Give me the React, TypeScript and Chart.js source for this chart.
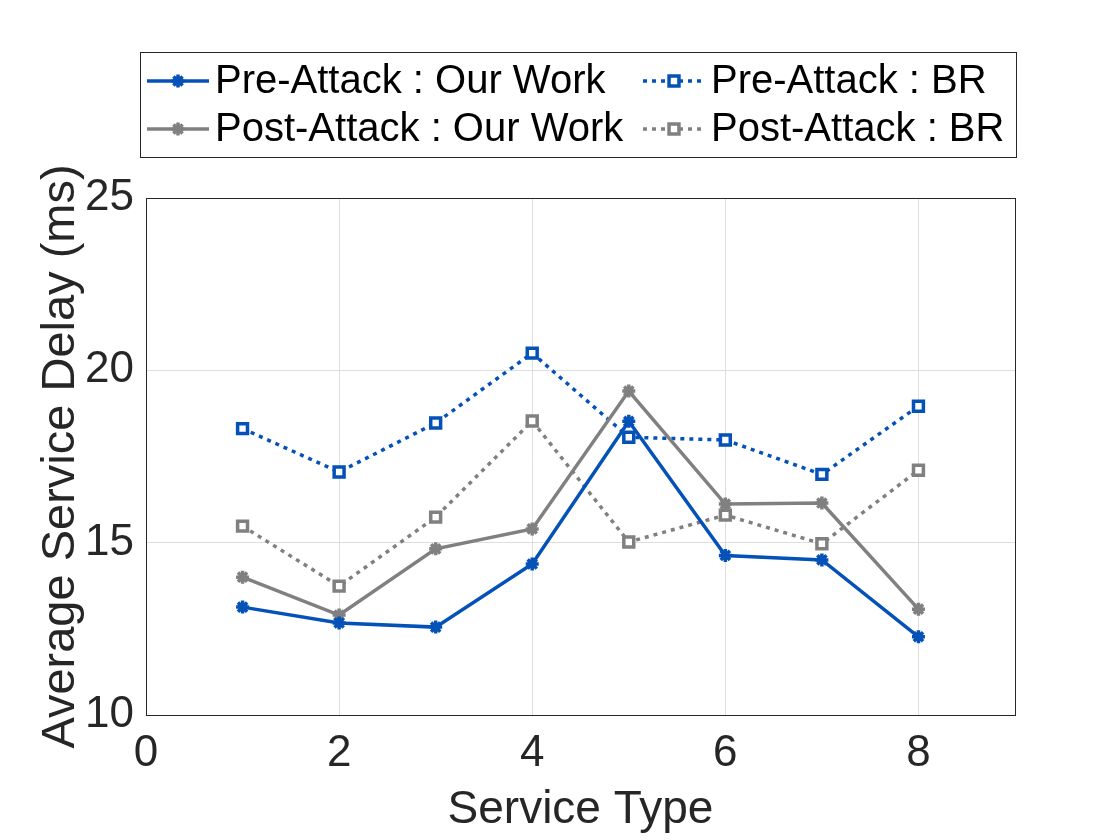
import React, { useEffect, useRef } from "react";
import { Chart, registerables } from "chart.js";
import { drawPoint } from "chart.js/helpers";

Chart.register(...registerables);

const serviceTypes = [1, 2, 3, 4, 5, 6, 7, 8];
const preAttackOurWork = [13.13, 12.67, 12.55, 14.38, 18.52, 14.63, 14.5, 12.27];
const postAttackOurWork = [14.0, 12.9, 14.82, 15.4, 19.4, 16.12, 16.15, 13.07];
const preAttackBR = [18.31, 17.05, 18.47, 20.5, 18.06, 17.98, 16.98, 18.96];
const postAttackBR = [15.48, 13.74, 15.74, 18.53, 15.02, 15.8, 14.97, 17.1];
const xTicks = [0, 2, 4, 6, 8];
const yTicks = [10, 15, 20, 25];

const BLUE = "#0451b8";
const GRAY = "#808080";
const FONT = "'Liberation Sans', Arial, Helvetica, sans-serif";

const toPoints = (ys: number[]) => serviceTypes.map((x, i) => ({ x, y: ys[i] }));

const legendPlugin = {
  id: "gridLegend",
  afterDraw(chart: any) {
    const ctx = chart.ctx;
    const area = chart.chartArea;
    ctx.save();
    ctx.strokeStyle = "#262626";
    ctx.lineWidth = 1;
    ctx.setLineDash([]);
    ctx.strokeRect(Math.round(area.left) + 0.5, Math.round(area.top) + 0.5, Math.round(area.right - area.left), Math.round(area.bottom - area.top));

    const bx = 140, by = 52, bw = 876, bh = 105;
    ctx.fillStyle = "#ffffff";
    ctx.fillRect(bx, by, bw, bh);
    ctx.strokeStyle = "#262626";
    ctx.strokeRect(bx + 0.5, by + 0.5, bw, bh);

    const order = [0, 2, 1, 3];
    const colX = [147, 643];
    const rowY = [81, 129];
    order.forEach((dsIndex, k) => {
      const ds = chart.data.datasets[dsIndex];
      const col = k % 2;
      const row = Math.floor(k / 2);
      const x0 = colX[col];
      const y = rowY[row];
      ctx.save();
      ctx.strokeStyle = ds.borderColor;
      ctx.lineWidth = ds.borderWidth;
      ctx.setLineDash(ds.borderDash || []);
      ctx.beginPath();
      ctx.moveTo(x0, y);
      ctx.lineTo(x0 + 62, y);
      ctx.stroke();
      ctx.setLineDash([]);
      ctx.fillStyle = ds.pointBackgroundColor;
      ctx.strokeStyle = ds.borderColor;
      ctx.lineWidth = ds.pointBorderWidth;
      drawPoint(ctx, { pointStyle: ds.pointStyle, radius: ds.pointRadius, borderWidth: ds.pointBorderWidth, rotation: 0 }, x0 + 31, y);
      ctx.restore();
      ctx.fillStyle = "#000000";
      ctx.font = `40px ${FONT}`;
      ctx.textBaseline = "middle";
      ctx.textAlign = "left";
      ctx.fillText(ds.label, x0 + 68, y + 1);
    });
    ctx.restore();
  },
};

export default function App() {
  const canvasRef = useRef<HTMLCanvasElement | null>(null);

  useEffect(() => {
    if (!canvasRef.current) return;
    const chart = new Chart(canvasRef.current, {
      type: "line",
      data: {
        datasets: [
          {
            label: "Pre-Attack : Our Work",
            data: toPoints(preAttackOurWork),
            borderColor: BLUE,
            backgroundColor: BLUE,
            borderWidth: 3.5,
            pointStyle: "star",
            pointRadius: 6.5,
            pointBorderWidth: 3.5,
            pointBackgroundColor: BLUE,
            pointBorderColor: BLUE,
          },
          {
            label: "Post-Attack : Our Work",
            data: toPoints(postAttackOurWork),
            borderColor: GRAY,
            backgroundColor: GRAY,
            borderWidth: 3.5,
            pointStyle: "star",
            pointRadius: 6.5,
            pointBorderWidth: 3.5,
            pointBackgroundColor: GRAY,
            pointBorderColor: GRAY,
          },
          {
            label: "Pre-Attack : BR",
            data: toPoints(preAttackBR),
            borderColor: BLUE,
            backgroundColor: "#ffffff",
            borderWidth: 3.5,
            borderDash: [4, 5],
            pointStyle: "rect",
            pointRadius: 7,
            pointBorderWidth: 3.5,
            pointBackgroundColor: "#ffffff",
            pointBorderColor: BLUE,
          },
          {
            label: "Post-Attack : BR",
            data: toPoints(postAttackBR),
            borderColor: GRAY,
            backgroundColor: "#ffffff",
            borderWidth: 3.5,
            borderDash: [4, 5],
            pointStyle: "rect",
            pointRadius: 7,
            pointBorderWidth: 3.5,
            pointBackgroundColor: "#ffffff",
            pointBorderColor: GRAY,
          },
        ],
      },
      options: {
        animation: false,
        responsive: false,
        maintainAspectRatio: false,
        layout: { padding: { top: 198, right: 105, left: 0, bottom: 0 } },
        plugins: {
          legend: { display: false },
          tooltip: { enabled: false },
        },
        scales: {
          x: {
            type: "linear",
            min: 0,
            max: 9,
            afterBuildTicks: (scale: any) => {
              scale.ticks = xTicks.map((v) => ({ value: v }));
            },
            afterFit: (scale: any) => {
              scale.height = 125;
            },
            grid: { color: "#dedede", lineWidth: 1, drawTicks: false },
            border: { color: "#262626", width: 1 },
            ticks: {
              color: "#262626",
              font: { family: FONT, size: 44 },
              padding: 12,
              maxRotation: 0,
            },
            title: {
              display: true,
              text: "Service Type",
              color: "#262626",
              font: { family: FONT, size: 46, lineHeight: 1.3 },
              padding: 0,
            },
          },
          y: {
            type: "linear",
            min: 10,
            max: 25,
            afterBuildTicks: (scale: any) => {
              scale.ticks = yTicks.map((v) => ({ value: v }));
            },
            afterFit: (scale: any) => {
              scale.width = 146;
            },
            grid: { color: "#dedede", lineWidth: 1, drawTicks: false },
            border: { color: "#262626", width: 1 },
            ticks: {
              color: "#262626",
              font: { family: FONT, size: 44 },
              padding: 12,
            },
            title: {
              display: true,
              text: "Average Service Delay (ms)",
              color: "#262626",
              font: { family: FONT, size: 47, lineHeight: "122px" as any },
              padding: 0,
            },
          },
        },
      },
      plugins: [legendPlugin],
    });
    return () => chart.destroy();
  }, []);

  return (
    <div style={{ position: "fixed", left: 0, top: 0, width: 1120, height: 840, background: "#ffffff" }}>
      <canvas ref={canvasRef} width={1120} height={840} style={{ width: 1120, height: 840, display: "block" }} />
    </div>
  );
}
